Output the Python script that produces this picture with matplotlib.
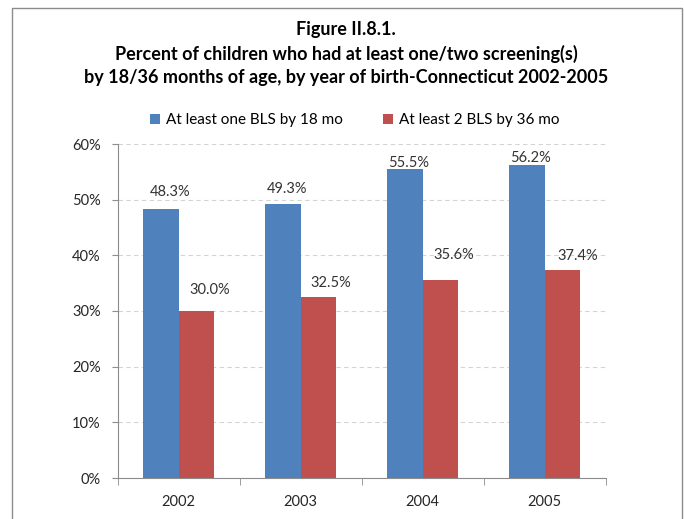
import numpy as np
import matplotlib.pyplot as plt
from matplotlib.patches import Rectangle

years = ['2002', '2003', '2004', '2005']
one_by_18 = [48.3, 49.3, 55.5, 56.2]
two_by_36 = [30.0, 32.5, 35.6, 37.4]
series_names = ['At least one BLS by 18 mo', 'At least 2 BLS by 36 mo']
title = ('Figure II.8.1.\n'
         'Percent of children who had at least one/two screening(s)\n'
         'by 18/36 months of age, by year of birth-Connecticut 2002-2005')

# hand-placed label offsets (pixels right, pixels above bar top), as in the original
off_one = [(9, 17), (4, 15), (4, 6), (4, 7)]
off_two = [(14, 21), (13, 14), (14, 25), (16, 14)]

plt.rcParams['font.family'] = ['Lato', 'DejaVu Sans']

fig = plt.figure(figsize=(6.84, 5.19), dpi=100)
fig.patches.append(Rectangle((12 / 684, -0.1), 670 / 684, 1.1 - 8 / 519,
                             transform=fig.transFigure, fill=False,
                             edgecolor='#8c8c8c', linewidth=1))
ax = fig.add_axes([117.5 / 684, 41 / 519, 488 / 684, 334 / 519])

x = np.arange(len(years))
w = 0.29
b1 = ax.bar(x - w / 2, one_by_18, w, color='#4f81bd', label=series_names[0], zorder=3)
b2 = ax.bar(x + w / 2, two_by_36, w, color='#c0504d', label=series_names[1], zorder=3)

px = 0.72  # points per pixel at 100 dpi
for bars, vals, offs in [(b1, one_by_18, off_one), (b2, two_by_36, off_two)]:
    for r, v, (dx, dy) in zip(bars, vals, offs):
        ax.annotate(f'{v:.1f}%', (r.get_x() + r.get_width() / 2, v),
                    xytext=(dx * px, dy * px), textcoords='offset points',
                    ha='center', va='center', fontsize=10.5, color='#333333')

ax.set_xlim(-0.5, 3.5)
ax.set_ylim(0, 60)
ax.set_yticks(range(0, 61, 10))
ax.set_yticklabels([f'{t}%' for t in range(0, 61, 10)])
ax.set_xticks(x)
ax.set_xticklabels(years)
ax.set_xticks(np.arange(-0.5, 4, 1), minor=True)
ax.tick_params(axis='x', which='major', length=0, pad=12)
ax.tick_params(axis='x', which='minor', length=5, color='#8c8c8c', direction='out')
ax.tick_params(axis='y', length=4, color='#8c8c8c', direction='out', pad=8)
ax.tick_params(labelsize=10.5, labelcolor='#262626')
ax.yaxis.grid(True, linestyle=(0, (4, 3)), color='#d4d4d4', linewidth=0.8, zorder=0)
ax.set_axisbelow(True)
for s in ['top', 'right']:
    ax.spines[s].set_visible(False)
for s in ['left', 'bottom']:
    ax.spines[s].set_color('#8c8c8c')

fig.text(0.506, 0.96, title, ha='center', va='top', fontsize=13,
         fontweight='bold', linespacing=1.45, color='#000000')
fig.legend(loc='center', bbox_to_anchor=(0.519, 0.768), ncol=2, frameon=False,
           fontsize=11, handlelength=0.65, handleheight=0.65, columnspacing=2.6,
           handletextpad=0.4)

fig.savefig('out.png', dpi=100)
